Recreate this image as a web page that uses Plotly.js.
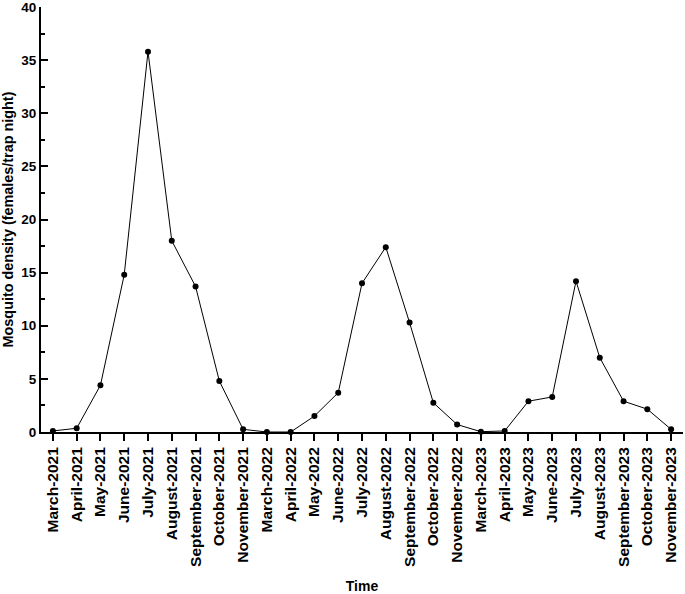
<!DOCTYPE html>
<html>
<head>
<meta charset="utf-8">
<script src="https://cdn.plot.ly/plotly-3.0.1.min.js"></script>
<style>
  html, body { margin: 0; padding: 0; background: #fff; }
  #chart { width: 685px; height: 594px; }
</style>
</head>
<body>
<div id="chart"></div>
<script>
// survey months (x categories)
const months = [
    'March-2021', 'April-2021', 'May-2021', 'June-2021', 'July-2021', 'August-2021',
    'September-2021', 'October-2021', 'November-2021',
    'March-2022', 'April-2022', 'May-2022', 'June-2022', 'July-2022', 'August-2022',
    'September-2022', 'October-2022', 'November-2022',
    'March-2023', 'April-2023', 'May-2023', 'June-2023', 'July-2023', 'August-2023',
    'September-2023', 'October-2023', 'November-2023'
];

// females per trap night
const density = [
    0.1, 0.35, 4.4, 14.8, 35.8, 18.0, 13.7, 4.8, 0.25,
    0.0, 0.0, 1.5, 3.7, 14.0, 17.4, 10.3, 2.75, 0.7,
    0.03, 0.1, 2.9, 3.3, 14.2, 7.0, 2.9, 2.15, 0.25
];

const yTicks = [0, 5, 10, 15, 20, 25, 30, 35, 40];

const bold = (size) => ({ family: 'Liberation Sans, Arial, sans-serif', size: size, color: '#000', weight: 'bold' });

const trace = {
    x: months,
    y: density,
    type: 'scatter',
    mode: 'lines+markers',
    line: { color: '#000', width: 1 },
    marker: { color: '#000', size: 6 },
    cliponaxis: false,
    hoverinfo: 'x+y'
};

const layout = {
    width: 685,
    height: 594,
    margin: { l: 41, r: 2, t: 7, b: 162 },
    paper_bgcolor: '#fff',
    plot_bgcolor: '#fff',
    showlegend: false,
    font: bold(14),
    xaxis: {
        type: 'category',
        range: [-0.5, 26.5],
        showgrid: false,
        zeroline: false,
        showline: true,
        linecolor: '#000',
        linewidth: 2,
        ticks: 'outside',
        ticklen: 7,
        tickwidth: 2,
        tickcolor: '#000',
        tickangle: -90,
        tickfont: bold(15.5),
        automargin: false,
        title: { text: 'Time', font: bold(14), standoff: 22 }
    },
    yaxis: {
        range: [0, 40],
        tickvals: yTicks,
        showgrid: false,
        zeroline: false,
        showline: true,
        linecolor: '#000',
        linewidth: 2,
        ticks: 'inside',
        ticklen: 7,
        tickwidth: 2,
        tickcolor: '#000',
        tickfont: bold(13.5),
        ticklabeloverflow: 'allow',
        minor: { dtick: 2.5, ticks: 'inside', ticklen: 4, tickwidth: 2, tickcolor: '#000', showgrid: false },
        automargin: false,
        title: { text: 'Mosquito density (females/trap night)', font: bold(14.4), standoff: 8 }
    }
};

Plotly.newPlot('chart', [trace], layout, { displayModeBar: false, staticPlot: true });
</script>
</body>
</html>
